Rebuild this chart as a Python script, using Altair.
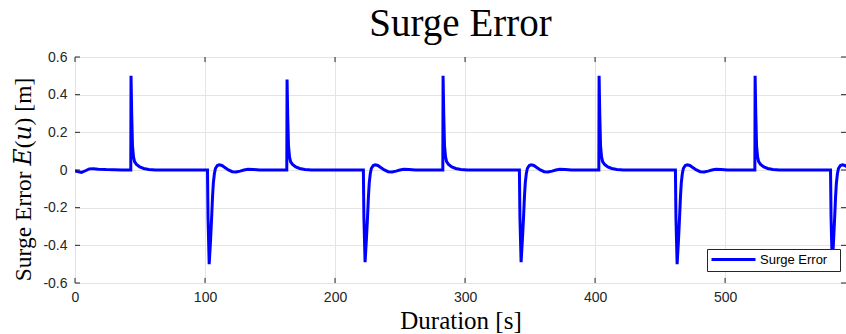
import altair as alt
import pandas as pd

# ---- data (time [s], surge error [m]) ----
t_start = [0, 2, 5, 8, 11, 14, 18, 24, 30, 36]
e_start = [-0.005, -0.008, -0.013, -0.004, 0.006, 0.007, 0.004, 0.002, 0.001, 0.0]

t_pos1 = [42.9, 43.1, 43.6, 44.2, 45.0, 45.8, 47.3, 49.8, 52.8, 56.8, 61.8]
e_pos1 = [0.0, 0.50, 0.30, 0.13, 0.07, 0.045, 0.03, 0.016, 0.008, 0.003, 0.0]

t_neg1 = [101.9, 102.3, 103.2, 104.2, 105.1, 105.8, 106.4, 107.2, 108.0, 109.5, 111.0,
          113.0, 115.5, 118.0, 121.0, 124.0, 127.0, 130.0, 133.0, 137.0, 142.0]
e_neg1 = [0.0, -0.25, -0.50, -0.38, -0.25, -0.14, -0.07, -0.02, 0.008, 0.024, 0.028,
          0.024, 0.012, 0.0, -0.009, -0.011, -0.006, 0.0, 0.004, 0.003, 0.0]

t_pos2 = [162.9, 163.1, 163.6, 164.2, 165.0, 165.8, 167.3, 169.8, 172.8, 176.8, 181.8]
e_pos2 = [0.0, 0.48, 0.29, 0.13, 0.07, 0.045, 0.03, 0.016, 0.008, 0.003, 0.0]

t_neg2 = [221.8, 222.2, 223.1, 224.1, 225.0, 225.7, 226.3, 227.1, 227.9, 229.4, 230.9,
          232.9, 235.4, 237.9, 240.9, 243.9, 246.9, 249.9, 252.9, 256.9, 261.9]
e_neg2 = [0.0, -0.25, -0.49, -0.37, -0.25, -0.14, -0.07, -0.02, 0.008, 0.024, 0.028,
          0.024, 0.012, 0.0, -0.009, -0.011, -0.006, 0.0, 0.004, 0.003, 0.0]

t_pos3 = [282.9, 283.1, 283.6, 284.2, 285.0, 285.8, 287.3, 289.8, 292.8, 296.8, 301.8]
e_pos3 = [0.0, 0.50, 0.30, 0.13, 0.07, 0.045, 0.03, 0.016, 0.008, 0.003, 0.0]

t_neg3 = [341.8, 342.2, 343.1, 344.1, 345.0, 345.7, 346.3, 347.1, 347.9, 349.4, 350.9,
          352.9, 355.4, 357.9, 360.9, 363.9, 366.9, 369.9, 372.9, 376.9, 381.9]
e_neg3 = [0.0, -0.25, -0.49, -0.37, -0.25, -0.14, -0.07, -0.02, 0.008, 0.024, 0.028,
          0.024, 0.012, 0.0, -0.009, -0.011, -0.006, 0.0, 0.004, 0.003, 0.0]

t_pos4 = [402.9, 403.1, 403.6, 404.2, 405.0, 405.8, 407.3, 409.8, 412.8, 416.8, 421.8]
e_pos4 = [0.0, 0.50, 0.30, 0.13, 0.07, 0.045, 0.03, 0.016, 0.008, 0.003, 0.0]

t_neg4 = [461.8, 462.2, 463.1, 464.1, 465.0, 465.7, 466.3, 467.1, 467.9, 469.4, 470.9,
          472.9, 475.4, 477.9, 480.9, 483.9, 486.9, 489.9, 492.9, 496.9, 501.9]
e_neg4 = [0.0, -0.25, -0.50, -0.38, -0.25, -0.14, -0.07, -0.02, 0.008, 0.024, 0.028,
          0.024, 0.012, 0.0, -0.009, -0.011, -0.006, 0.0, 0.004, 0.003, 0.0]

t_pos5 = [522.9, 523.1, 523.6, 524.2, 525.0, 525.8, 527.3, 529.8, 532.8, 536.8, 541.8]
e_pos5 = [0.0, 0.50, 0.30, 0.13, 0.07, 0.045, 0.03, 0.016, 0.008, 0.003, 0.0]

t_neg5 = [581.1, 581.5, 582.4, 583.4, 584.3, 585.0, 585.6, 586.4, 587.2, 588.7, 590.2,
          592.2, 594.7]
e_neg5 = [0.0, -0.25, -0.50, -0.38, -0.25, -0.14, -0.07, -0.02, 0.008, 0.024, 0.028,
          0.024, 0.012]

x_ticks = [0, 100, 200, 300, 400, 500]
y_ticks = [-0.6, -0.4, -0.2, 0, 0.2, 0.4, 0.6]
x_max = 593
series_name = "Surge Error"

t_all = (t_start + t_pos1 + t_neg1 + t_pos2 + t_neg2 + t_pos3 + t_neg3
         + t_pos4 + t_neg4 + t_pos5 + t_neg5)
e_all = (e_start + e_pos1 + e_neg1 + e_pos2 + e_neg2 + e_pos3 + e_neg3
         + e_pos4 + e_neg4 + e_pos5 + e_neg5)

df = pd.DataFrame({"t": t_all, "e": e_all, "series": series_name})

xs = alt.Scale(domain=[0, x_max], nice=False, zero=False)
ys = alt.Scale(domain=[-0.6, 0.6], nice=False)

AX = dict(grid=True, gridColor="#e4e4e4", gridWidth=1, ticks=False, domain=False,
          labelFont="Liberation Sans", labelFontSize=14, labelColor="#262626",
          labelOverlap=False, labelFlush=False,
          titleFont="Liberation Serif, DejaVu Serif",
          titleFontWeight="normal", titleColor="#000000")

x_axis = alt.Axis(values=x_ticks, title="Duration [s]", labelPadding=7, titleFontSize=25,
                  titlePadding=4, labelExpr="toString(datum.value)", **AX)
y_axis = alt.Axis(values=y_ticks, title="Surge Error 𝐸(𝑢) [m]", labelPadding=8,
                  titleFontSize=23.5, titleY=122,
                  titlePadding=7, labelExpr="toString(datum.value)", **AX)

line = alt.Chart(df).mark_line(strokeWidth=3, clip=True).encode(
    x=alt.X("t:Q", scale=xs, axis=x_axis),
    y=alt.Y("e:Q", scale=ys, axis=y_axis),
    color=alt.Color("series:N", scale=alt.Scale(range=["#0000ff"]),
                    legend=alt.Legend(title="\u00a0", titleOrient="right", titleFontSize=2,
                                      titlePadding=9,
                                      orient="none", legendX=632, legendY=192,
                                      fillColor="#ffffff", strokeColor="#262626",
                                      padding=4, symbolType="M-5.5,0H5.5", symbolSize=64,
                                      symbolStrokeWidth=3, symbolOffset=16,
                                      labelFont="Liberation Sans",
                                      labelFontSize=13, labelColor="#000000",
                                      labelOffset=20)),
)

# inward tick marks (MATLAB style box)
tick_len_y = 0.027
tick_len_x = 3.85
xt = pd.DataFrame({"v": x_ticks})
yt = pd.DataFrame({"v": y_ticks})
tick_style = dict(color="#262626", strokeWidth=1)

bottom_ticks = alt.Chart(xt).mark_rule(**tick_style).encode(
    x=alt.X("v:Q", scale=xs, axis=x_axis), y=alt.datum(-0.6, scale=ys, axis=y_axis),
    y2=alt.datum(-0.6 + tick_len_y))
top_ticks = alt.Chart(xt).mark_rule(**tick_style).encode(
    x=alt.X("v:Q", scale=xs, axis=x_axis), y=alt.datum(0.6, scale=ys, axis=y_axis),
    y2=alt.datum(0.6 - tick_len_y))
left_ticks = alt.Chart(yt).mark_rule(**tick_style).encode(
    y=alt.Y("v:Q", scale=ys, axis=y_axis), x=alt.datum(0, scale=xs, axis=x_axis),
    x2=alt.datum(tick_len_x))
right_ticks = alt.Chart(yt).mark_rule(**tick_style).encode(
    y=alt.Y("v:Q", scale=ys, axis=y_axis), x=alt.datum(x_max, scale=xs, axis=x_axis),
    x2=alt.datum(x_max - tick_len_x))

chart = alt.layer(line, bottom_ticks, top_ticks, left_ticks, right_ticks).properties(
    width=771, height=226,
    autosize="none",
    padding={"left": 75, "top": 57, "right": 0, "bottom": 51},
    title=alt.Title(series_name, font="Liberation Serif", fontSize=39,
                    fontWeight="normal", color="#000000", anchor="middle", offset=6),
).configure_view(stroke="#404040", strokeWidth=1).configure(background="#ffffff")

chart.save("out.html", embed_options={"renderer": "svg", "actions": False})
